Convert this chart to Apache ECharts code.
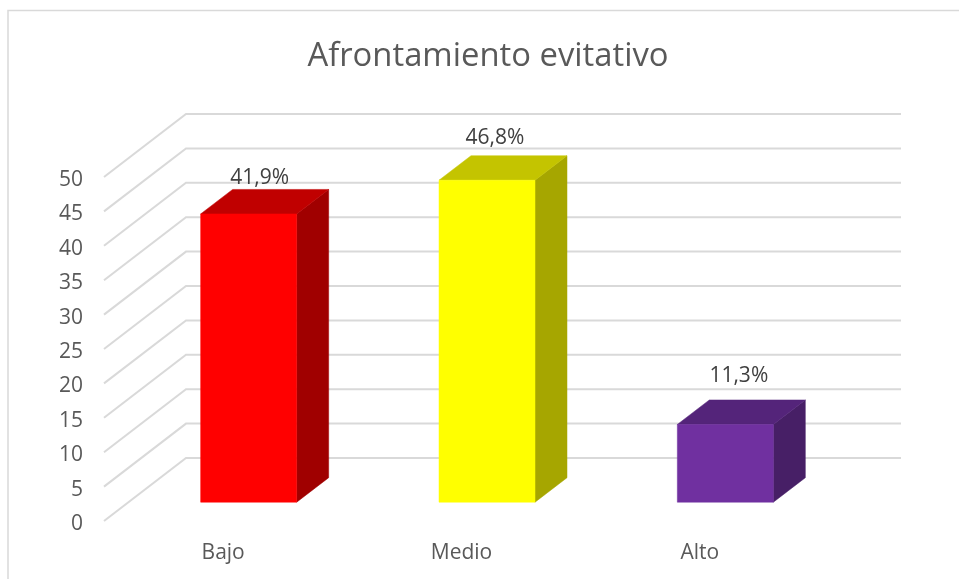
<!DOCTYPE html>
<html>
<head>
<meta charset="utf-8">
<style>html,body{margin:0;padding:0;background:#fff}#c{width:959px;height:579px}</style>
<script src="https://cdn.jsdelivr.net/npm/echarts@6/dist/echarts.min.js"></script>
</head>
<body>
<div id="c"></div>
<script>
var categories = ['Bajo', 'Medio', 'Alto'];
var values = [41.9, 46.8, 11.3];
var valueLabels = ['41,9%', '46,8%', '11,3%'];
var yTicks = [0, 5, 10, 15, 20, 25, 30, 35, 40, 45, 50];
var title = 'Afrontamiento evitativo';

// styles and projection constants
var FONT = '"Open Sans", sans-serif';
var faceColors = ['#FF0000', '#FFFF00', '#7030A0'];
var topColors = ['#C00000', '#C4C400', '#54247A'];
var sideColors = ['#A00000', '#A6A600', '#471F66'];
var labelNudge = [[11, -11], [8, -18], [13.5, -24]];
var WALL = {startDy: -3, dx: 82, dy: -63, width: 715};
var BAR = {planeDx: 25.5, planeDy: -21.8, width: 96, depthDx: 32, depthDy: -24.5};

function renderWall(params, api) {
  var cs = params.coordSys;
  var p = api.coord([0, api.value(1)]);
  var x0 = cs.x, y0 = p[1] + WALL.startDy;
  return {
    type: 'polyline',
    shape: {points: [[x0, y0], [x0 + WALL.dx, y0 + WALL.dy], [x0 + WALL.dx + WALL.width, y0 + WALL.dy]]},
    style: {stroke: '#D9D9D9', lineWidth: 2, fill: null}
  };
}

function renderBar(params, api) {
  var i = params.dataIndex;
  var top = api.coord([api.value(0), api.value(1)]);
  var base = api.coord([api.value(0), 0]);
  var l = top[0] + BAR.planeDx - BAR.width / 2;
  var r = l + BAR.width;
  var t = top[1] + BAR.planeDy;
  var b = base[1] + BAR.planeDy;
  var dx = BAR.depthDx, dy = BAR.depthDy;
  function poly(points, color) {
    return {type: 'polygon', shape: {points: points},
      style: {fill: color, stroke: color, lineWidth: 0.5}};
  }
  return {
    type: 'group',
    children: [
      poly([[r, t], [r + dx, t + dy], [r + dx, b + dy], [r, b]], sideColors[i]),
      poly([[l, t], [l + dx, t + dy], [r + dx, t + dy], [r, t]], topColors[i]),
      poly([[l, t], [r, t], [r, b], [l, b]], faceColors[i]),
      {
        type: 'text',
        style: {
          text: valueLabels[i],
          x: (l + r) / 2 + labelNudge[i][0],
          y: t + dy + labelNudge[i][1],
          align: 'center', verticalAlign: 'middle',
          fill: '#404040', font: '21px ' + FONT
        }
      }
    ]
  };
}

var chart = echarts.init(document.getElementById('c'), null, {renderer: 'canvas'});
chart.setOption({
  animation: false,
  backgroundColor: '#fff',
  title: {
    text: title, left: 483, top: 35, textAlign: 'center',
    textStyle: {fontFamily: FONT, fontSize: 32.8, fontWeight: 'normal', color: '#595959'}
  },
  grid: {left: 104, right: 140, top: 180, bottom: 55},
  xAxis: {
    type: 'category', data: categories,
    axisLine: {show: false}, axisTick: {show: false},
    axisLabel: {fontFamily: FONT, fontSize: 21, color: '#595959', margin: 19}
  },
  yAxis: {
    type: 'value', min: 0, max: 50, interval: 5,
    axisLine: {show: false}, axisTick: {show: false}, splitLine: {show: false},
    axisLabel: {fontFamily: FONT, fontSize: 21, color: '#595959', margin: 21}
  },
  graphic: [
    {type: 'polyline', silent: true, z: 0, shape: {points: [[8, 579], [8, 10.5], [959, 10.5]]},
     style: {stroke: '#D9D9D9', lineWidth: 1.5, fill: null}}
  ],
  series: [
    {type: 'custom', renderItem: renderWall, clip: false, silent: true, z: 1,
     data: yTicks.map(function (v) { return [0, v]; })},
    {type: 'custom', renderItem: renderBar, clip: false, silent: true, z: 2,
     data: values.map(function (v, i) { return [i, v]; })}
  ]
});
</script>
</body>
</html>
